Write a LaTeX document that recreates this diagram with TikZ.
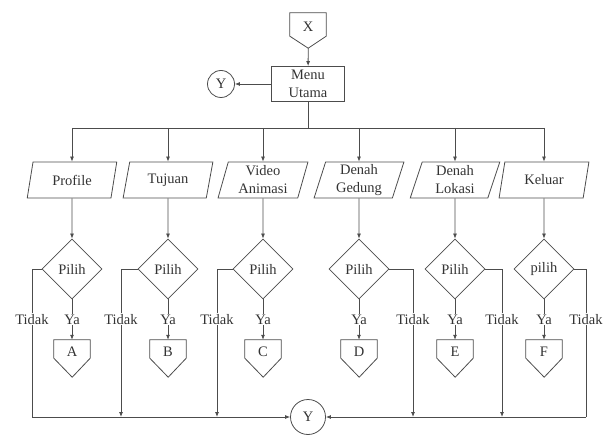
\documentclass[tikz,border=0pt]{standalone}
\usepackage{fontspec}
\setmainfont{Liberation Serif}
\usetikzlibrary{shapes.geometric,arrows.meta}
\tikzset{
  flow/.style={draw=black!70, line width=0.8pt},
  flowarrow/.style={flow, -{Latex[length=5pt,width=4pt]}},
  io/.style={flow, trapezium, trapezium left angle=76, trapezium right angle=104, trapezium stretches=true, minimum width=90, minimum height=36, inner sep=1pt, align=center},
  pilih/.style={flow, diamond, aspect=1, minimum size=60, inner sep=0pt},
  menubox/.style={flow, rectangle, minimum width=73, minimum height=35, inner sep=1pt, align=center},
  conn/.style={minimum width=36, inner sep=0pt, text height=15pt},
  circ/.style={flow, circle, inner sep=0pt},
  lbl/.style={fill=white, inner sep=1pt}
}
\newcommand{\drawoffpage}[6]{\node[conn, minimum height=#5] (#1) at (#2,#3+#5/2) {#4};
  \draw[flow] (#1.north west) -- (#1.north east) -- (#1.south east) -- ++(-18,#6) coordinate (#1tip) -- (#1.south west) -- cycle;}
\newcommand{\drawchoice}[8]{\coordinate (b#1) at (#2,128); \node[io] (#1) at (#2,180) {#3}; \node[pilih] (p#1) at (#2,269) {#4};
  \drawoffpage{c#1}{#2}{340}{#5}{18}{19} \coordinate (t#1) at (#7,417);
  \draw[flowarrow] (b#1) -- (#1); \draw[flowarrow] (#1) -- (p#1); \draw[flowarrow] (p#1) -- node[lbl]{Ya} (c#1);
  \draw[#8] (p#1.#6) -| node[lbl,pos=0.67]{Tidak} (t#1);}

\begin{document}
\begin{tikzpicture}[x=1pt,y=-1pt,font=\fontsize{14.5}{18}\selectfont,text=black!80]
  \useasboundingbox (0,0) rectangle (615,435);
  \drawoffpage{conx}{308}{13}{X}{23}{12}
  \node[menubox] (menu) at (308,84) {Menu\\Utama};
  \node[circ, minimum size=27] (ytop) at (221,84) {Y};
  \node[circ, minimum size=35] (ybot) at (308,417) {Y};
  \coordinate (bus) at (308,128);
  \draw[flowarrow] (conxtip) -- (menu); \draw[flowarrow] (menu) -- (ytop); \draw[flow] (menu) -- (bus);
  \drawchoice{profile}{72}{Profile}{Pilih}{A}{west}{32}{flow}
  \drawchoice{tujuan}{168}{Tujuan}{Pilih}{B}{west}{121}{flowarrow}
  \drawchoice{video}{263}{Video\\Animasi}{Pilih}{C}{west}{217}{flowarrow}
  \drawchoice{gedung}{359}{Denah\\Gedung}{Pilih}{D}{east}{413}{flowarrow}
  \drawchoice{lokasi}{455}{Denah\\Lokasi}{Pilih}{E}{east}{502}{flowarrow}
  \drawchoice{keluar}{544}{Keluar}{pilih}{F}{east}{586}{flow}
  \draw[flow] (bprofile) -- (bkeluar);
  \draw[flowarrow] (tprofile) -- (ybot); \draw[flowarrow] (tkeluar) -- (ybot);
\end{tikzpicture}
\end{document}
